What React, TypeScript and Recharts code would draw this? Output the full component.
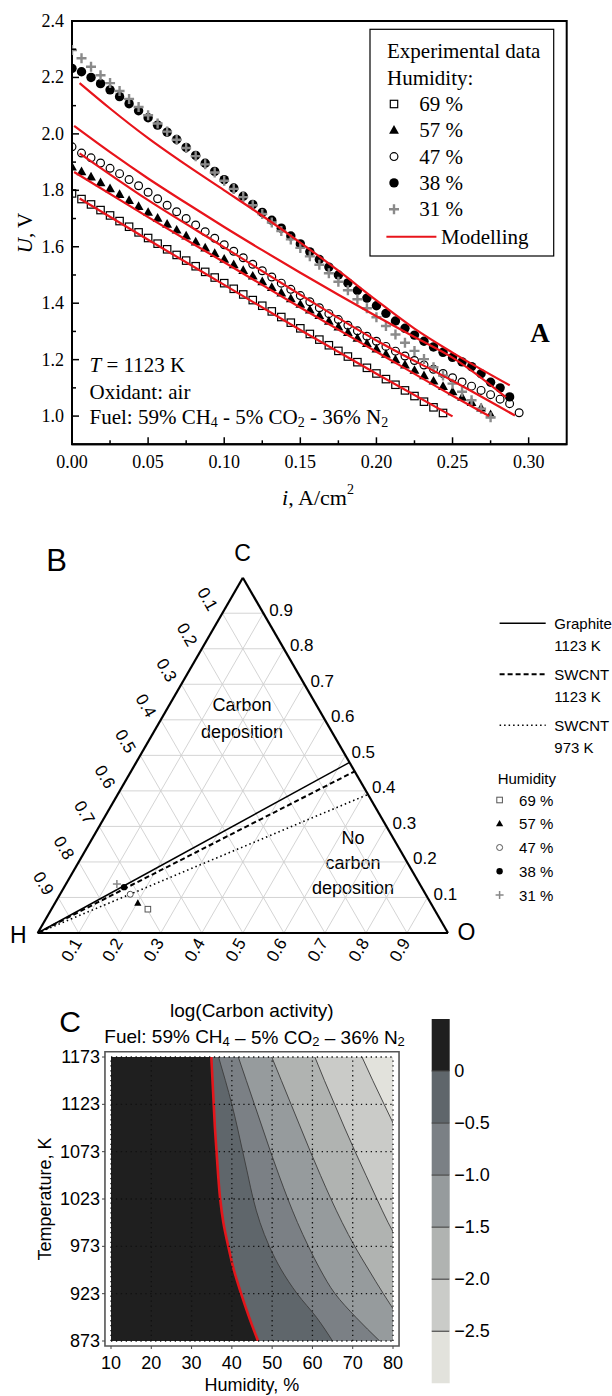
import React from 'react';
import {
  ComposedChart, ScatterChart, BarChart, Bar, Scatter, Line, Area, XAxis, YAxis,
  ReferenceLine, ReferenceArea, CartesianGrid, Customized,
} from 'recharts';

const SERIF = '"Liberation Serif", "Times New Roman", serif';
const SANS = '"Liberation Sans", Arial, Helvetica, sans-serif';

// ---------------- Panel A data ----------------
const currentDensity = [
  0, 0.00625, 0.0125, 0.01875, 0.025, 0.03125, 0.0375, 0.04375, 0.05, 0.05625,
  0.0625, 0.06875, 0.075, 0.08125, 0.0875, 0.09375, 0.1, 0.10625, 0.1125, 0.11875,
  0.125, 0.13125, 0.1375, 0.14375, 0.15, 0.15625, 0.1625, 0.16875, 0.175, 0.18125,
  0.1875, 0.19375, 0.2, 0.20625, 0.2125, 0.21875, 0.225, 0.23125, 0.2375, 0.24375,
  0.25, 0.25625, 0.2625, 0.26875, 0.275, 0.28125, 0.2875, 0.29375,
];
const volt69 = [
  1.789, 1.769, 1.750, 1.730, 1.711, 1.691, 1.671, 1.651, 1.631, 1.611,
  1.591, 1.571, 1.551, 1.531, 1.511, 1.491, 1.471, 1.451, 1.431, 1.411,
  1.391, 1.371, 1.351, 1.331, 1.311, 1.291, 1.271, 1.251, 1.231, 1.211,
  1.191, 1.171, 1.151, 1.131, 1.111, 1.091, 1.071, 1.051, 1.031, 1.011,
];
const volt57 = [
  1.883, 1.866, 1.847, 1.827, 1.806, 1.785, 1.764, 1.743, 1.722, 1.701,
  1.680, 1.659, 1.638, 1.617, 1.596, 1.576, 1.556, 1.536, 1.516, 1.496,
  1.476, 1.456, 1.436, 1.416, 1.396, 1.376, 1.356, 1.336, 1.316, 1.296,
  1.276, 1.257, 1.238, 1.219, 1.200, 1.181, 1.162, 1.143, 1.124, 1.105,
  1.086, 1.067, 1.048, 1.029, 1.005,
];
const volt47 = [
  1.954, 1.932, 1.915, 1.897, 1.878, 1.859, 1.838, 1.816, 1.793, 1.770,
  1.747, 1.724, 1.700, 1.677, 1.653, 1.630, 1.607, 1.584, 1.561, 1.538,
  1.515, 1.493, 1.471, 1.449, 1.427, 1.405, 1.384, 1.363, 1.342, 1.322,
  1.302, 1.283, 1.265, 1.247, 1.230, 1.213, 1.197, 1.181, 1.166, 1.151,
  1.136, 1.121, 1.106, 1.091, 1.076, 1.060, 1.044, 1.012,
];
const volt38 = [
  2.232, 2.220, 2.200, 2.178, 2.156, 2.132, 2.107, 2.082, 2.057, 2.031,
  2.006, 1.980, 1.952, 1.924, 1.896, 1.867, 1.838, 1.808, 1.779, 1.750,
  1.722, 1.694, 1.666, 1.638, 1.610, 1.582, 1.555, 1.528, 1.500, 1.472,
  1.445, 1.418, 1.391, 1.364, 1.337, 1.311, 1.287, 1.265, 1.245, 1.226,
  1.208, 1.192, 1.175, 1.150, 1.120, 1.100, 1.068,
];
const volt31 = [
  2.297, 2.268, 2.238, 2.208, 2.180, 2.152, 2.124, 2.095, 2.066, 2.037,
  2.008, 1.979, 1.950, 1.921, 1.892, 1.863, 1.834, 1.805, 1.776, 1.747,
  1.716, 1.686, 1.656, 1.626, 1.596, 1.566, 1.536, 1.506, 1.476, 1.446,
  1.414, 1.382, 1.350, 1.319, 1.289, 1.260, 1.231, 1.202, 1.173, 1.144,
  1.115, 1.086, 1.056, 1.026, 0.996,
];

const model38I = [0.005, 0.025, 0.05, 0.075, 0.1, 0.125, 0.15, 0.175, 0.2, 0.225, 0.25, 0.2876];
const model38U = [2.180, 2.090, 1.985, 1.890, 1.800, 1.710, 1.615, 1.515, 1.410, 1.310, 1.225, 1.109];
const model31I = [0.0014, 0.025, 0.05, 0.075, 0.1, 0.125, 0.15, 0.175, 0.2, 0.225, 0.25, 0.285];
const model31U = [2.028, 1.935, 1.842, 1.755, 1.670, 1.588, 1.508, 1.430, 1.354, 1.280, 1.207, 1.067];
const model47I = [0.005, 0.05, 0.1, 0.15, 0.2, 0.25, 0.291];
const model47U = [1.931, 1.765, 1.598, 1.430, 1.268, 1.125, 1.002];
const model57I = [0.0014, 0.05, 0.1, 0.15, 0.2, 0.25, 0.274];
const model57U = [1.865, 1.705, 1.545, 1.385, 1.228, 1.072, 1.000];
const model69I = [0.005, 0.05, 0.1, 0.15, 0.2, 0.25];
const model69U = [1.771, 1.625, 1.465, 1.305, 1.150, 0.999];

const aTicksX = [0, 0.025, 0.05, 0.075, 0.1, 0.125, 0.15, 0.175, 0.2, 0.225, 0.25, 0.275, 0.3];
const aTicksY = [1.0, 1.1, 1.2, 1.3, 1.4, 1.5, 1.6, 1.7, 1.8, 1.9, 2.0, 2.1, 2.2, 2.3, 2.4];
const humidityLabels = ['69 %', '57 %', '47 %', '38 %', '31 %'];

// ---------------- Panel B data ----------------
const ternTicks = [0.1, 0.2, 0.3, 0.4, 0.5, 0.6, 0.7, 0.8, 0.9];
const pointC = [0.067, 0.084, 0.109, 0.129, 0.138];
const pointO = [0.235, 0.202, 0.171, 0.146, 0.124];
const boundaryEndC = [0.48, 0.455, 0.39];
const boundaryNames = ['Graphite', 'SWCNT', 'SWCNT'];
const boundaryTemps = ['1123 K', '1123 K', '973 K'];

// ---------------- Panel C data ----------------
const tempK = [873, 898, 923, 948, 973, 998, 1023, 1048, 1073, 1098, 1123, 1148, 1173];
const lvl0 = [46.5, 44.3, 42.3, 40.5, 39.1, 37.9, 37.1, 36.6, 36.2, 35.8, 35.5, 35.2, 34.9];
const lvlM05 = [65.0, 61.0, 56.2, 52.3, 49.3, 47.0, 45.3, 44.0, 42.7, 41.4, 40.0, 38.4, 36.7];
const lvlM10 = [76.7, 70.8, 65.6, 62.0, 59.0, 56.3, 53.9, 51.7, 49.6, 47.6, 45.6, 43.6, 41.6];
const lvlM15 = [86.0, 81.5, 77.6, 74.0, 70.5, 67.4, 64.6, 62.0, 59.5, 57.1, 54.7, 52.3, 49.9];
const lvlM20 = [97.0, 93.0, 89.0, 85.5, 82.0, 78.8, 76.0, 73.3, 70.6, 68.0, 65.5, 63.0, 60.6];
const lvlM25 = [110.0, 106.0, 102.5, 99.0, 95.5, 92.5, 89.5, 86.5, 83.5, 80.6, 77.8, 75.0, 72.3];
const cTicksX = [10, 20, 30, 40, 50, 60, 70, 80];
const cTicksY = [873, 923, 973, 1023, 1073, 1123, 1173];
const colorbarSteps = [0.5, -0.5, -0.5, -0.5, -0.5, -0.5, -0.5];
const colorbarColors = ['#1f1f1f', '#5f666b', '#7b8085', '#969b9d', '#b0b3b1', '#cacbc8', '#e2e2dc'];
const colorbarTicks = [0, -0.5, -1.0, -1.5, -2.0, -2.5];

// ---------------- helpers ----------------
const pts = (u: number[]) => u.map((v, k) => ({ i: currentDensity[k], u: v }));
const modelPts = (iArr: number[], uArr: number[]) => iArr.map((v, k) => ({ i: v, u: uArr[k] }));

const SquareOpen = (p: any) => (
  <rect x={p.cx - 3.7} y={p.cy - 3.7} width={7.4} height={7.4} fill="none" stroke="#000" strokeWidth={1.2} />
);
const TriFilled = (p: any) => (
  <path d={`M${p.cx},${p.cy - 5.2} L${p.cx + 4.9},${p.cy + 3.5} L${p.cx - 4.9},${p.cy + 3.5} Z`} fill="#000" />
);
const CircleOpen = (p: any) => (
  <circle cx={p.cx} cy={p.cy} r={3.9} fill="none" stroke="#000" strokeWidth={1.2} />
);
const CircleFilled = (p: any) => <circle cx={p.cx} cy={p.cy} r={4.7} fill="#000" />;
const PlusGray = (p: any) => (
  <path d={`M${p.cx - 5},${p.cy} H${p.cx + 5} M${p.cx},${p.cy - 5} V${p.cy + 5}`} stroke="#8a8a8a" strokeWidth={2.4} />
);
const aShapes = [SquareOpen, TriFilled, CircleOpen, CircleFilled, PlusGray];

const ATickX = (props: any) => {
  const { x, y, payload } = props;
  const v = payload.value;
  const major = Math.round(v * 1000) % 50 === 0;
  return (
    <g>
      <line x1={x} x2={x} y1={y} y2={y - (major ? 7 : 4)} stroke="#000" strokeWidth={1.5} />
      {major && (
        <text x={x} y={y + 18} textAnchor="middle" dominantBaseline="central" fontFamily={SERIF} fontSize={18} fill="#000">
          {v.toFixed(2)}
        </text>
      )}
    </g>
  );
};
const ATickY = (props: any) => {
  const { x, y, payload } = props;
  const v = payload.value;
  const major = Math.round(v * 10) % 2 === 0;
  return (
    <g>
      <line x1={x} x2={x + (major ? 7 : 4)} y1={y} y2={y} stroke="#000" strokeWidth={1.5} />
      {major && (
        <text x={x - 8} y={y} textAnchor="end" dominantBaseline="central" fontFamily={SERIF} fontSize={18} fill="#000">
          {v.toFixed(1)}
        </text>
      )}
    </g>
  );
};

const AnnotA = () => (
  <g fontFamily={SERIF} fill="#000">
    <text x={89.5} y={365} fontSize={21} dominantBaseline="central"><tspan fontStyle="italic">T</tspan> = 1123 K</text>
    <text x={89.5} y={391.7} fontSize={21} dominantBaseline="central">Oxidant: air</text>
    <text x={89.5} y={416.5} fontSize={21} dominantBaseline="central">
      Fuel: 59% CH<tspan fontSize={14} dy={5}>4</tspan><tspan dy={-5}> - 5% CO</tspan><tspan fontSize={14} dy={5}>2</tspan><tspan dy={-5}> - 36% N</tspan><tspan fontSize={14} dy={5}>2</tspan>
    </text>
    <text x={540} y={333} fontSize={27} fontWeight="bold" textAnchor="middle" dominantBaseline="central">A</text>
    <text transform="translate(25,233) rotate(-90)" fontSize={21} textAnchor="middle" dominantBaseline="central">
      <tspan fontStyle="italic">U</tspan>, V
    </text>
    <text x={318} y={497} fontSize={22} textAnchor="middle" dominantBaseline="central">
      <tspan fontStyle="italic">i</tspan>, A/cm<tspan fontSize={14} dy={-8}>2</tspan>
    </text>
    <rect x={370} y={29.3} width={183.7} height={226.7} fill="#fff" stroke="#000" strokeWidth={1.2} />
    <text x={387} y={50.7} fontSize={21} dominantBaseline="central">Experimental data</text>
    <text x={387} y={77.7} fontSize={21} dominantBaseline="central">Humidity:</text>
    {humidityLabels.map((lab, k) => {
      const yy = 104 + k * 26.3;
      const Shape = aShapes[k];
      return (
        <g key={lab}>
          <Shape cx={394} cy={yy} />
          <text x={419.3} y={yy} fontSize={21} dominantBaseline="central">{lab}</text>
        </g>
      );
    })}
    <line x1={386.4} x2={436.4} y1={236.7} y2={236.7} stroke="#e8141b" strokeWidth={2} />
    <text x={441} y={236.7} fontSize={21} dominantBaseline="central">Modelling</text>
  </g>
);

// ---------------- Panel B helpers ----------------
const SQ = 0.8660254;
const tx = (c: number, o: number) => o + c / 2;
const ty = (c: number) => c * SQ;

const gridSegs: { a: { x: number; y: number }; b: { x: number; y: number } }[] = [];
ternTicks.forEach((v) => {
  gridSegs.push({ a: { x: tx(v, 0), y: ty(v) }, b: { x: tx(v, 1 - v), y: ty(v) } });
  gridSegs.push({ a: { x: tx(0, v), y: 0 }, b: { x: tx(1 - v, v), y: ty(1 - v) } });
  gridSegs.push({ a: { x: tx(0, 1 - v), y: 0 }, b: { x: tx(1 - v, 0), y: ty(1 - v) } });
});
const edgeSegs = [
  { a: { x: 0, y: 0 }, b: { x: 1, y: 0 } },
  { a: { x: 1, y: 0 }, b: { x: 0.5, y: SQ } },
  { a: { x: 0.5, y: SQ }, b: { x: 0, y: 0 } },
];
const rightLabels = ternTicks.map((v) => ({ x: tx(v, 1 - v), y: ty(v), text: String(v) }));
const leftLabels = ternTicks.map((v) => ({ x: tx(1 - v, 0), y: ty(1 - v), text: String(v) }));
const bottomLabels = ternTicks.map((v) => ({ x: tx(0, v), y: 0, text: String(v) }));
const humPts = pointC.map((c, k) => ({ x: tx(c, pointO[k]), y: ty(c) }));

const RightLabel = (p: any) => (
  <text x={p.cx + 6} y={p.cy - 3} textAnchor="start" dominantBaseline="central" fontFamily={SANS} fontSize={17} fill="#000">{p.payload.text}</text>
);
const LeftLabel = (p: any) => {
  const X = p.cx - 15; const Y = p.cy - 14;
  return <text x={X} y={Y} transform={`rotate(60 ${X} ${Y})`} textAnchor="middle" dominantBaseline="central" fontFamily={SANS} fontSize={17} fill="#000">{p.payload.text}</text>;
};
const BottomLabel = (p: any) => {
  const X = p.cx - 7; const Y = p.cy + 17;
  return <text x={X} y={Y} transform={`rotate(-60 ${X} ${Y})`} textAnchor="middle" dominantBaseline="central" fontFamily={SANS} fontSize={17} fill="#000">{p.payload.text}</text>;
};

const BSquare = (p: any) => <rect x={p.cx - 2.8} y={p.cy - 2.8} width={5.6} height={5.6} fill="#fff" stroke="#555" strokeWidth={1} />;
const BTri = (p: any) => <path d={`M${p.cx},${p.cy - 3.8} L${p.cx + 3.6},${p.cy + 2.6} L${p.cx - 3.6},${p.cy + 2.6} Z`} fill="#000" />;
const BCircleOpen = (p: any) => <circle cx={p.cx} cy={p.cy} r={3} fill="#fff" stroke="#555" strokeWidth={1} />;
const BCircle = (p: any) => <circle cx={p.cx} cy={p.cy} r={3.2} fill="#000" />;
const BPlus = (p: any) => <path d={`M${p.cx - 4},${p.cy} H${p.cx + 4} M${p.cx},${p.cy - 4} V${p.cy + 4}`} stroke="#888" strokeWidth={1.5} />;
const bShapes = [BSquare, BTri, BCircleOpen, BCircle, BPlus];
const boundaryDash = [undefined, '5 3', '1.5 3'];
const boundaryWidth = [1.5, 2, 1.6];

const AnnotB = () => (
  <g fontFamily={SANS} fill="#000">
    <text x={56.6} y={40} fontSize={31} textAnchor="middle" dominantBaseline="central">B</text>
    <text x={242.5} y={33.3} fontSize={23} textAnchor="middle" dominantBaseline="central">C</text>
    <text x={18.3} y={415} fontSize={23} textAnchor="middle" dominantBaseline="central">H</text>
    <text x={466.4} y={411.7} fontSize={23} textAnchor="middle" dominantBaseline="central">O</text>
    <text x={242} y={185} fontSize={18} textAnchor="middle" dominantBaseline="central">Carbon</text>
    <text x={242} y={211.7} fontSize={18} textAnchor="middle" dominantBaseline="central">deposition</text>
    <text x={353} y={318} fontSize={18} textAnchor="middle" dominantBaseline="central">No</text>
    <text x={353} y={343} fontSize={18} textAnchor="middle" dominantBaseline="central">carbon</text>
    <text x={353} y={368.3} fontSize={18} textAnchor="middle" dominantBaseline="central">deposition</text>
    {boundaryNames.map((n, k) => {
      const yy = 103.3 + k * 51;
      return (
        <g key={k}>
          <line x1={499.6} x2={545.7} y1={yy} y2={yy} stroke="#000" strokeWidth={boundaryWidth[k]} strokeDasharray={boundaryDash[k]} />
          <text x={554.3} y={yy} fontSize={15} dominantBaseline="central">{n}</text>
          <text x={554.3} y={yy + 21.7} fontSize={15} dominantBaseline="central">{boundaryTemps[k]}</text>
        </g>
      );
    })}
    <text x={497.7} y={258.3} fontSize={15} dominantBaseline="central">Humidity</text>
    {humidityLabels.map((lab, k) => {
      const yy = 280 + k * 23.75;
      const Shape = bShapes[k];
      return (
        <g key={lab}>
          <Shape cx={499.6} cy={yy} />
          <text x={519.1} y={yy} fontSize={15} dominantBaseline="central">{lab}</text>
        </g>
      );
    })}
  </g>
);

// ---------------- Panel C helpers ----------------
const contourRows = tempK.map((T, k) => ({
  T, z0: lvl0[k], m05: lvlM05[k], m10: lvlM10[k], m15: lvlM15[k], m20: lvlM20[k], m25: lvlM25[k],
}));
const contourKeys = ['m25', 'm20', 'm15', 'm10', 'm05'];
const contourFills = ['#cacbc8', '#b0b3b1', '#969b9d', '#7b8085', '#5f666b'];

const CTickX = (props: any) => {
  const { x, y, payload } = props;
  return (
    <g>
      <line x1={x} x2={x} y1={y + 5} y2={y + 8} stroke="#444" strokeWidth={1} />
      <text x={x} y={y + 22} textAnchor="middle" dominantBaseline="central" fontFamily={SANS} fontSize={18} fill="#000">{payload.value}</text>
    </g>
  );
};
const CTickY = (props: any) => {
  const { x, y, payload } = props;
  return (
    <g>
      <line x1={x - 6} x2={x - 9} y1={y} y2={y} stroke="#444" strokeWidth={1} />
      <text x={x - 11} y={y} textAnchor="end" dominantBaseline="central" fontFamily={SANS} fontSize={18} fill="#000">{payload.value}</text>
    </g>
  );
};
const CbTick = (props: any) => {
  const { x, y, payload } = props;
  const v = payload.value;
  const s = v === 0 ? '0' : '\u2212' + Math.abs(v).toFixed(1);
  return (
    <text x={x + 5} y={y} textAnchor="start" dominantBaseline="central" fontFamily={SANS} fontSize={18} fill="#000">{s}</text>
  );
};

const AnnotC = () => (
  <g fontFamily={SANS} fill="#000">
    <text x={70} y={41.7} fontSize={30} textAnchor="middle" dominantBaseline="central">C</text>
    <text x={251.8} y={30.7} fontSize={19} textAnchor="middle" dominantBaseline="central">log(Carbon activity)</text>
    <text x={254.6} y={56.7} fontSize={19} textAnchor="middle" dominantBaseline="central">
      Fuel: 59% CH<tspan fontSize={13} dy={4}>4</tspan><tspan dy={-4}> – 5% CO</tspan><tspan fontSize={13} dy={4}>2</tspan><tspan dy={-4}> – 36% N</tspan><tspan fontSize={13} dy={4}>2</tspan>
    </text>
    <text transform="translate(45,219) rotate(-90)" fontSize={18} textAnchor="middle" dominantBaseline="central">Temperature, K</text>
    <text x={251.8} y={405} fontSize={18} textAnchor="middle" dominantBaseline="central">Humidity, %</text>
    <text x={171.7} y={197} fontSize={21} fill="#fff" textAnchor="middle" dominantBaseline="central">Carbon</text>
    <text x={171.7} y={287} fontSize={21} fill="#fff" textAnchor="middle" dominantBaseline="central">deposition</text>
  </g>
);

const colorbarRow = [colorbarSteps.reduce((acc: any, v, k) => { acc['b' + k] = v; return acc; }, { name: 'cb' })];

export default function App() {
  return (
    <div style={{ position: 'absolute', left: 0, top: 0, width: 612, height: 1396, background: '#fff' }}>
      {/* Panel A */}
      <div style={{ position: 'absolute', left: 0, top: 0 }}>
        <ComposedChart width={612} height={520} margin={{ top: 21, right: 45.3, bottom: 45.7, left: 32 }}>
          <XAxis type="number" dataKey="i" domain={[0, 0.325]} ticks={aTicksX} interval={0} allowDataOverflow
            tick={(p: any) => <ATickX {...p} />} tickLine={false} tickSize={0} tickMargin={0} height={30}
            axisLine={{ stroke: '#000', strokeWidth: 2 }} />
          <YAxis type="number" dataKey="u" domain={[0.9, 2.4]} ticks={aTicksY} interval={0} allowDataOverflow
            tick={(p: any) => <ATickY {...p} />} tickLine={false} tickSize={0} tickMargin={0} width={40}
            axisLine={{ stroke: '#000', strokeWidth: 2 }} />
          <ReferenceArea x1={0} x2={0.325} y1={0.9} y2={2.4} fill="none" stroke="#000" strokeWidth={2} />
          <Scatter data={pts(volt69)} shape={SquareOpen} isAnimationActive={false} />
          <Scatter data={pts(volt57)} shape={TriFilled} isAnimationActive={false} />
          <Scatter data={pts(volt47)} shape={CircleOpen} isAnimationActive={false} />
          <Scatter data={pts(volt38)} shape={CircleFilled} isAnimationActive={false} />
          <Scatter data={pts(volt31)} shape={PlusGray} isAnimationActive={false} />
          {[[model38I, model38U], [model31I, model31U], [model47I, model47U], [model57I, model57U], [model69I, model69U]].map((m, k) => (
            <Line key={k} data={modelPts(m[0], m[1])} dataKey="u" type="monotone" stroke="#e8141b" strokeWidth={2.2}
              dot={false} activeDot={false} isAnimationActive={false} {...({ zIndex: 700 } as any)} />
          ))}
          <Customized component={AnnotA} />
        </ComposedChart>
      </div>

      {/* Panel B */}
      <div style={{ position: 'absolute', left: 0, top: 520 }}>
        <ScatterChart width={612} height={460} margin={{ top: 57.7, right: 164, bottom: 47, left: 37.7 }}>
          <XAxis type="number" dataKey="x" domain={[0, 1]} hide />
          <YAxis type="number" dataKey="y" domain={[0, SQ]} hide />
          {gridSegs.map((s, k) => (
            <ReferenceLine key={'g' + k} segment={[s.a, s.b]} stroke="#cfcfcf" strokeWidth={0.9} ifOverflow="visible" />
          ))}
          {boundaryEndC.map((c, k) => (
            <ReferenceLine key={'bd' + k} segment={[{ x: 0, y: 0 }, { x: tx(c, 1 - c), y: ty(c) }]} stroke="#000"
              strokeWidth={boundaryWidth[k]} strokeDasharray={boundaryDash[k]} ifOverflow="visible" />
          ))}
          {edgeSegs.map((s, k) => (
            <ReferenceLine key={'e' + k} segment={[s.a, s.b]} stroke="#000" strokeWidth={2.2} ifOverflow="visible" />
          ))}
          <Scatter data={rightLabels} shape={RightLabel} isAnimationActive={false} />
          <Scatter data={leftLabels} shape={LeftLabel} isAnimationActive={false} />
          <Scatter data={bottomLabels} shape={BottomLabel} isAnimationActive={false} />
          {humPts.map((p, k) => (
            <Scatter key={'h' + k} data={[p]} shape={bShapes[k]} isAnimationActive={false} />
          ))}
          <Customized component={AnnotB} />
        </ScatterChart>
      </div>

      {/* Panel C */}
      <div style={{ position: 'absolute', left: 0, top: 980 }}>
        <ComposedChart layout="vertical" width={612} height={416} data={contourRows}
          margin={{ top: 77, right: 219, bottom: 30, left: 61 }}>
          <CartesianGrid horizontal={false} vertical={false} fill="#e2e2dc" fillOpacity={1} />
          <XAxis type="number" domain={[10, 80]} ticks={cTicksX} interval={0} allowDataOverflow height={25}
            tick={(p: any) => <CTickX {...p} />} tickLine={false} axisLine={false} tickSize={0} tickMargin={0} />
          <YAxis type="number" dataKey="T" domain={[873, 1173]} reversed ticks={cTicksY} interval={0} allowDataOverflow width={50}
            tick={(p: any) => <CTickY {...p} />} tickLine={false} axisLine={false} tickSize={0} tickMargin={0} />
          {contourKeys.map((key, k) => (
            <Area key={key} dataKey={key} type="monotone" baseValue={10} fill={contourFills[k]} fillOpacity={1}
              stroke="#3c3c3c" strokeWidth={0.9} isAnimationActive={false} activeDot={false} />
          ))}
          <Area dataKey="z0" type="monotone" baseValue={10} fill="#1f1f1f" fillOpacity={1}
            stroke="#e3161b" strokeWidth={2.6} isAnimationActive={false} activeDot={false} />
          {cTicksX.map((v) => (
            <ReferenceLine key={'vx' + v} x={v} stroke="#111" strokeWidth={1.3} strokeDasharray="1.3 3.6" />
          ))}
          {cTicksY.map((v) => (
            <ReferenceLine key={'hy' + v} y={v} stroke="#111" strokeWidth={1.3} strokeDasharray="1.3 3.6" />
          ))}
          <ReferenceArea x1={8.5} x2={81.5} y1={867.7} y2={1178.6} ifOverflow="visible" fill="none" stroke="#555" strokeWidth={1.6} />
          <Customized component={AnnotC} />
        </ComposedChart>
      </div>

      {/* Colorbar */}
      <div style={{ position: 'absolute', left: 0, top: 980 }}>
        <BarChart width={612} height={416} data={colorbarRow} stackOffset="sign" barCategoryGap={0}
          margin={{ top: 39, right: 102.7, bottom: 12.7, left: 431.7 }}>
          <XAxis dataKey="name" hide />
          <YAxis type="number" orientation="right" domain={[-3, 0.5]} ticks={colorbarTicks} interval={0} width={60}
            tick={(p: any) => <CbTick {...p} />} tickLine={false} axisLine={false} tickSize={0} tickMargin={0} />
          {colorbarSteps.map((v, k) => (
            <Bar key={'b' + k} dataKey={'b' + k} stackId="cb" fill={colorbarColors[k]} isAnimationActive={false} />
          ))}
          {colorbarTicks.map((v) => (
            <ReferenceLine key={'cbt' + v} y={v} stroke="#4a4a4a" strokeWidth={1.2} />
          ))}
        </BarChart>
      </div>
    </div>
  );
}
